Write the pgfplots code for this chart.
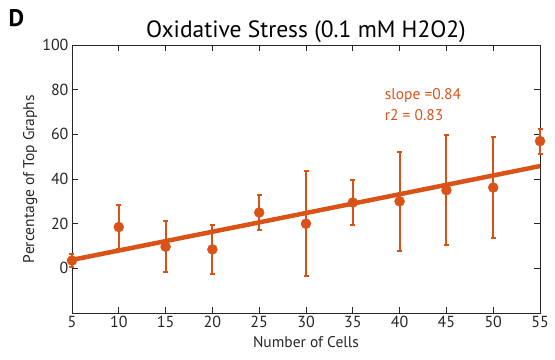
\documentclass[border=0pt]{standalone}
\usepackage{pgfplots}
\pgfplotsset{compat=1.18}
\usepackage{fontspec}
\setmainfont{PT Sans}
\definecolor{mred}{HTML}{D95319}
\definecolor{axgray}{HTML}{262626}
\begin{document}
\begin{tikzpicture}
\begin{axis}[
  scale only axis, width=468pt, height=268pt,
  xmin=5, xmax=55, ymin=-20, ymax=100,
  xtick={5,10,...,55}, ytick={0,20,...,100},
  tick align=inside, major tick length=6pt,
  axis line style={axgray, line width=0.8pt},
  every tick/.style={axgray, line width=0.8pt},
  tick label style={font=\fontsize{16}{18}\selectfont, text=axgray},
  /pgf/number format/assume math mode=true,
  xlabel={Number of Cells}, ylabel={Percentage of Top Graphs},
  label style={font=\fontsize{15.5}{18}\selectfont, text=axgray},
  xlabel style={yshift=-1pt},
  ylabel style={yshift=-2pt},
  title={Oxidative Stress (0.1 mM H2O2)},
  title style={font=\fontsize{23.5}{26}\selectfont, yshift=-7pt},
  clip=false,
  every error bar/.append style={line width=2pt},
]
\path (rel axis cs:-0.1538,-0.1716) rectangle (rel axis cs:1.032,1.168);
\node[font=\bfseries\fontsize{24}{26}\selectfont, anchor=north west, inner sep=0pt] at (rel axis cs:-0.1360,1.135) {D};
\addplot[mred, line width=4.5pt] coordinates {(5,3.8) (55,45.8)};
\addplot[mred, only marks, mark=*, mark size=5pt,
  error bars/.cd, y dir=both, y explicit,
  error bar style={line width=2pt, mred},
  error mark options={rotate=90, mark size=2.5pt, line width=2pt, mred}]
  coordinates {
  (5,3.5) +- (0,3)
  (10,18.5) +- (0,10)
  (15,9.7) +- (0,11.5)
  (20,8.5) +- (0,11)
  (25,25) +- (0,8)
  (30,20) +- (0,23.5)
  (35,29.5) +- (0,10)
  (40,30) +- (0,22)
  (45,35) +- (0,24.5)
  (50,36.2) +- (0,22.7)
  (55,57) +- (0,5.6)
  };
\node[anchor=west, text=mred, font=\fontsize{15.5}{18}\selectfont, inner sep=0pt] at (axis cs:38.4,77.6) {slope =0.84};
\node[anchor=west, text=mred, font=\fontsize{15.5}{18}\selectfont, inner sep=0pt] at (axis cs:38.4,68.6) {r2 = 0.83};
\end{axis}
\end{tikzpicture}
\end{document}
